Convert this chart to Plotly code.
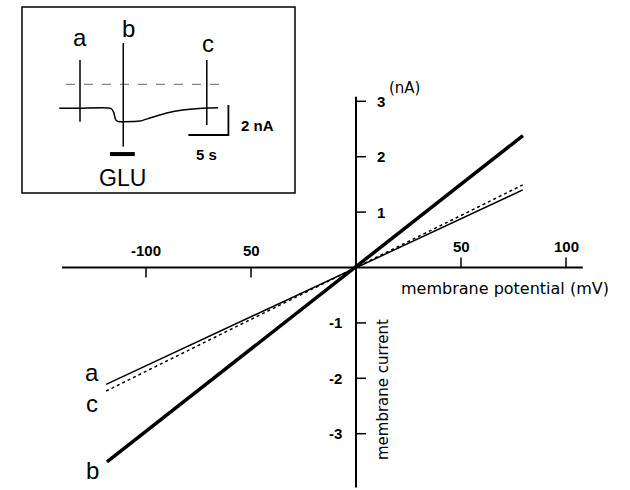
import plotly.graph_objects as go

# ---------------- main I-V data (mV, nA) ----------------
V_a = [-119.0, 79.4]
I_a = [-2.11, 1.40]
V_b = [-118.6, 79.5]
I_b = [-3.51, 2.38]
V_c = [-119.0, 79.4]
I_c = [-2.23, 1.49]

x_ticks_neg = [-100, -50]
x_labels_neg = ["-100", "50"]
x_ticks_pos = [50, 100]
x_labels_pos = ["50", "100"]
y_ticks_pos = [1, 2, 3]
y_ticks_neg = [-1, -2, -3]

# ---------------- inset current trace (s, nA) ----------------
t_trace = [4.66, 7.25, 11.1, 11.45, 11.7, 12.0, 12.66, 14.75, 16.0, 18.1, 20.1, 23.1, 24.5]
i_trace = [-1.60, -1.60, -1.60, -1.85, -2.35, -2.48, -2.49, -2.45, -2.25, -1.91, -1.71, -1.58, -1.56]
spike_t = [7.25, 12.66, 23.1]
spike_top = [1.62, 2.75, 1.62]
spike_bot = [-2.49, -4.16, -2.71]
spike_names = ["a", "b", "c"]
zero_t = [5.5, 25.75]
glu_t = [11.0, 14.1]
glu_level = -4.65
scale_t = [20.8, 25.8, 25.8]
scale_i = [-3.38, -3.38, -1.38]

W, H = 630, 490
fig = go.Figure()

# main series
fig.add_trace(go.Scatter(x=V_a, y=I_a, mode="lines", line=dict(color="black", width=1.5), xaxis="x", yaxis="y"))
fig.add_trace(go.Scatter(x=V_c, y=I_c, mode="lines", line=dict(color="black", width=1.5, dash="dot"), xaxis="x", yaxis="y"))
fig.add_trace(go.Scatter(x=V_b, y=I_b, mode="lines", line=dict(color="black", width=3.5), xaxis="x", yaxis="y"))

# inset traces
fig.add_trace(go.Scatter(x=zero_t, y=[0, 0], mode="lines", line=dict(color="#666", width=1, dash="dash"), xaxis="x2", yaxis="y2"))
fig.add_trace(go.Scatter(x=t_trace, y=i_trace, mode="lines", line=dict(color="black", width=1.5, shape="spline", smoothing=0.6), xaxis="x2", yaxis="y2"))
for t, a, b in zip(spike_t, spike_top, spike_bot):
    fig.add_trace(go.Scatter(x=[t, t], y=[a, b], mode="lines", line=dict(color="black", width=1.5), xaxis="x2", yaxis="y2"))
fig.add_trace(go.Scatter(x=glu_t, y=[glu_level, glu_level], mode="lines", line=dict(color="black", width=4), xaxis="x2", yaxis="y2"))
fig.add_trace(go.Scatter(x=scale_t, y=scale_i, mode="lines", line=dict(color="black", width=1.8), xaxis="x2", yaxis="y2"))

shapes = []
# axis lines
shapes.append(dict(type="line", xref="x", yref="y", x0=-140, x1=108, y0=0, y1=0, line=dict(color="black", width=2)))
shapes.append(dict(type="line", xref="x", yref="y", x0=0, x1=0, y0=-3.97, y1=3.08, line=dict(color="black", width=2)))
# ticks
for v in x_ticks_neg:
    shapes.append(dict(type="line", xref="x", yref="y", ysizemode="pixel", yanchor=0, x0=v, x1=v, y0=-10, y1=0, line=dict(color="black", width=1.5)))
for v in x_ticks_pos:
    shapes.append(dict(type="line", xref="x", yref="y", ysizemode="pixel", yanchor=0, x0=v, x1=v, y0=0, y1=10, line=dict(color="black", width=1.5)))
for v in y_ticks_pos + y_ticks_neg:
    shapes.append(dict(type="line", xref="x", yref="y", xsizemode="pixel", xanchor=0, x0=0, x1=10, y0=v, y1=v, line=dict(color="black", width=1.5)))
# inset frame
shapes.append(dict(type="rect", xref="x2 domain", yref="y2 domain", x0=0, x1=1, y0=0, y1=1, line=dict(color="black", width=1.5)))

ann = []
f_tick = dict(family="Liberation Sans", size=15, color="black", weight="bold")
for v, s in zip(x_ticks_neg, x_labels_neg):
    ann.append(dict(x=v, y=0, xref="x", yref="y", text=s, showarrow=False, yshift=17, font=f_tick))
for v, s in zip(x_ticks_pos, x_labels_pos):
    ann.append(dict(x=v, y=0, xref="x", yref="y", text=s, showarrow=False, yshift=21, font=f_tick))
for v in y_ticks_pos:
    ann.append(dict(x=0, y=v, xref="x", yref="y", text=str(v), showarrow=False, xshift=25, font=f_tick))
for v in y_ticks_neg:
    ann.append(dict(x=0, y=v, xref="x", yref="y", text=str(v), showarrow=False, xshift=-21, font=f_tick))
ann.append(dict(x=23.3, y=3.24, xref="x", yref="y", text="(nA)", showarrow=False, font=dict(family="DejaVu Sans", size=15, color="black")))
ann.append(dict(x=71, y=-0.37, xref="x", yref="y", text="membrane potential (mV)", showarrow=False, font=dict(family="DejaVu Sans", size=16, color="black")))
ann.append(dict(x=12.9, y=-2.21, xref="x", yref="y", text="membrane current", textangle=-90, showarrow=False, font=dict(family="DejaVu Sans", size=15, color="black")))
f_big = dict(family="Liberation Sans", size=24, color="black")
ann.append(dict(x=-125.7, y=-1.90, xref="x", yref="y", text="a", showarrow=False, font=f_big))
ann.append(dict(x=-125.7, y=-2.45, xref="x", yref="y", text="c", showarrow=False, font=f_big))
ann.append(dict(x=-125.7, y=-3.66, xref="x", yref="y", text="b", showarrow=False, font=f_big))

# inset labels
for t, y, s in zip([7.25, 13.25, 23.25], [3.09, 3.69, 2.75], spike_names):
    ann.append(dict(x=t, y=y, xref="x2", yref="y2", text=s, showarrow=False, font=f_big))
ann.append(dict(x=12.6, y=-6.25, xref="x2", yref="y2", text="GLU", showarrow=False, font=dict(family="Liberation Sans", size=23, color="black")))
ann.append(dict(x=29.4, y=-2.78, xref="x2", yref="y2", text="<b>2 nA</b>", showarrow=False, font=dict(family="Liberation Sans", size=15, color="black")))
ann.append(dict(x=23.1, y=-4.71, xref="x2", yref="y2", text="<b>5 s</b>", showarrow=False, font=dict(family="Liberation Sans", size=15, color="black")))

px_mv = 2.1
px_na = 55.4
x0px, y0px = 356, 267.5
box = (22, 7, 295, 193)
inset_pxs, inset_pxna, inset_zero = 8.0, 15.0, 84.3

fig.update_layout(
    width=W, height=H, margin=dict(l=0, r=0, t=0, b=0),
    paper_bgcolor="white", plot_bgcolor="rgba(0,0,0,0)",
    showlegend=False,
    xaxis=dict(domain=[0, 1], range=[-x0px / px_mv, (W - x0px) / px_mv], visible=False),
    yaxis=dict(domain=[0, 1], range=[-(H - y0px) / px_na, y0px / px_na], visible=False),
    xaxis2=dict(domain=[box[0] / W, box[2] / W], range=[0, (box[2] - box[0]) / inset_pxs], visible=False, anchor="y2"),
    yaxis2=dict(domain=[(H - box[3]) / H, (H - box[1]) / H], range=[(inset_zero - box[3]) / inset_pxna, (inset_zero - box[1]) / inset_pxna], visible=False, anchor="x2"),
    shapes=shapes, annotations=ann,
)
fig.write_html("out.html")
